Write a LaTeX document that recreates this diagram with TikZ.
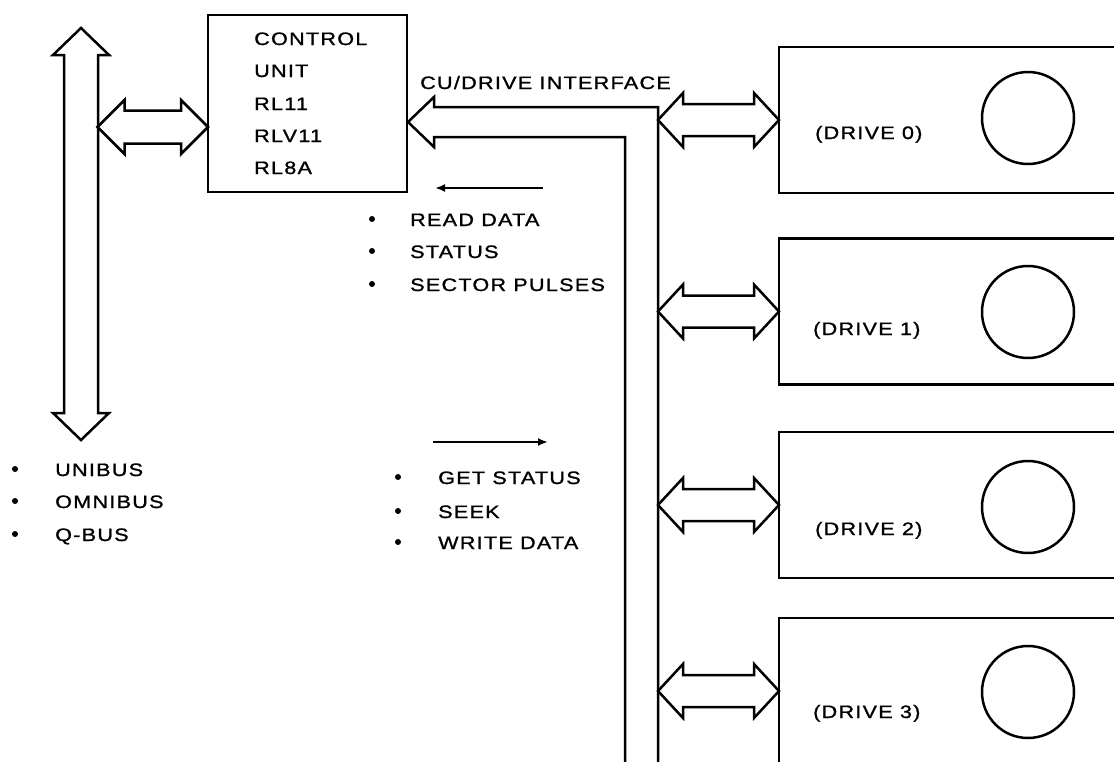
\documentclass[tikz,border=0pt]{standalone}
\usepackage{fontspec}
\usetikzlibrary{calc,arrows.meta}
\newfontfamily\lf[FakeStretch=1.2,LetterSpace=7,FakeBold=1.2]{Liberation Sans}
% horizontal hollow double arrow: #1 left tip, #2 right tip, #3 head length, #4 half head, #5 half shaft
\newcommand\hdarrow[5]{%
  \draw[hollow] (#1) -- ($(#1)+(#3,-#4)$) -- ($(#1)+(#3,-#5)$) -- ($(#2)+(-#3,-#5)$) -- ($(#2)+(-#3,-#4)$) -- (#2)
    -- ($(#2)+(-#3,#4)$) -- ($(#2)+(-#3,#5)$) -- ($(#1)+(#3,#5)$) -- ($(#1)+(#3,#4)$) -- cycle;}
% vertical hollow double arrow: #1 top tip, #2 bottom tip
\newcommand\vdarrow[5]{%
  \draw[hollow] (#1) -- ($(#1)+(#4,#3)$) -- ($(#1)+(#5,#3)$) -- ($(#2)+(#5,-#3)$) -- ($(#2)+(#4,-#3)$) -- (#2)
    -- ($(#2)+(-#4,-#3)$) -- ($(#2)+(-#5,-#3)$) -- ($(#1)+(-#5,#3)$) -- ($(#1)+(-#4,#3)$) -- cycle;}
\begin{document}
\begin{tikzpicture}[x=1pt,y=-1pt,
  hollow/.style={draw=black,line width=2.5pt,line join=miter,fill=white},
  box/.style={draw,line width=2.8pt,inner sep=0pt,outer sep=0pt},
  disk/.style={circle,draw,line width=2.5pt,minimum size=92pt,inner sep=0pt},
  lbl/.style={font=\lf\fontsize{18}{20}\selectfont,anchor=base west,inner sep=0pt},
  dot/.style={circle,fill,inner sep=0pt,minimum size=6pt},
  sig/.style={line width=2.4pt,-{Latex[length=10pt,width=8pt]}}]
\useasboundingbox (0,0) rectangle (1114,761);
\clip (0,0) rectangle (1114,761);

% control unit
\node[box,minimum width=199pt,minimum height=177pt] (cu) at (307.5,103.5) {};
\node[lbl] (cu1) at (254,45) {CONTROL};
\node[lbl] (cu2) at (254,77) {UNIT};
\node[lbl] (cu3) at (254,110) {RL11};
\node[lbl] (cu4) at (254,142) {RLV11};
\node[lbl] (cu5) at (254,174) {RL8A};

% system bus
\coordinate (ubT) at (81,28);
\coordinate (ubB) at (81,440);
\vdarrow{ubT}{ubB}{27}{28}{17}
\coordinate (ubR) at (97.5,127);
\coordinate (cuL) at (cu.west |- ubR);
\hdarrow{ubR}{cuL}{27}{27}{16.5}

\node[dot] (bu1) at (15,469) {};
\node[dot] (bu2) at (15,501) {};
\node[dot] (bu3) at (15,534) {};
\node[lbl] (u1) at (55,476) {UNIBUS};
\node[lbl] (u2) at (55,508) {OMNIBUS};
\node[lbl] (u3) at (55,541) {Q-BUS};

% CU / drive interface bus
\coordinate (busTip) at (408,122);
\draw[hollow] (busTip) -- ++(26,-25) -- ++(0,10) -- (658,107) -- (658,775) -- (625,775) -- (625,137) -- (434,137) -- ++(0,10) -- cycle;
\coordinate (busR) at (658,0);
\node[lbl] (cui) at (420,89) {CU/DRIVE INTERFACE};

% signals to CU
\coordinate (s1a) at (543,188);
\coordinate (s1b) at (435,188);
\draw[sig] (s1a) -- (s1b);
\node[dot] (br1) at (372,219) {};
\node[dot] (br2) at (372,251) {};
\node[dot] (br3) at (372,284) {};
\node[lbl] (r1) at (410,226) {READ DATA};
\node[lbl] (r2) at (410,258) {STATUS};
\node[lbl] (r3) at (410,291) {SECTOR PULSES};

% signals to drives
\coordinate (s2a) at (433,442);
\coordinate (s2b) at (548,442);
\draw[sig] (s2a) -- (s2b);
\node[dot] (bw1) at (398,477) {};
\node[dot] (bw2) at (398,511) {};
\node[dot] (bw3) at (398,542) {};
\node[lbl] (w1) at (438,484) {GET STATUS};
\node[lbl] (w2) at (438,518) {SEEK};
\node[lbl] (w3) at (438,549) {WRITE DATA};

% drives
\foreach \i/\ym/\yc/\xt/\yt in {0/120/118/815/139, 1/311.5/312/813/335, 2/505/507/815/535, 3/691/692/813/718}{
  \node[box,minimum width=400pt,minimum height=146pt,anchor=west] (d\i) at (779,\ym) {};
  \node[disk] (c\i) at (1028,\yc) {};
  \node[lbl] (t\i) at (\xt,\yt) {(DRIVE \i)};
  \coordinate (a\i) at (d\i.west -| busR);
  \hdarrow{a\i}{d\i.west}{25}{27}{16}
}
\end{tikzpicture}
\end{document}
